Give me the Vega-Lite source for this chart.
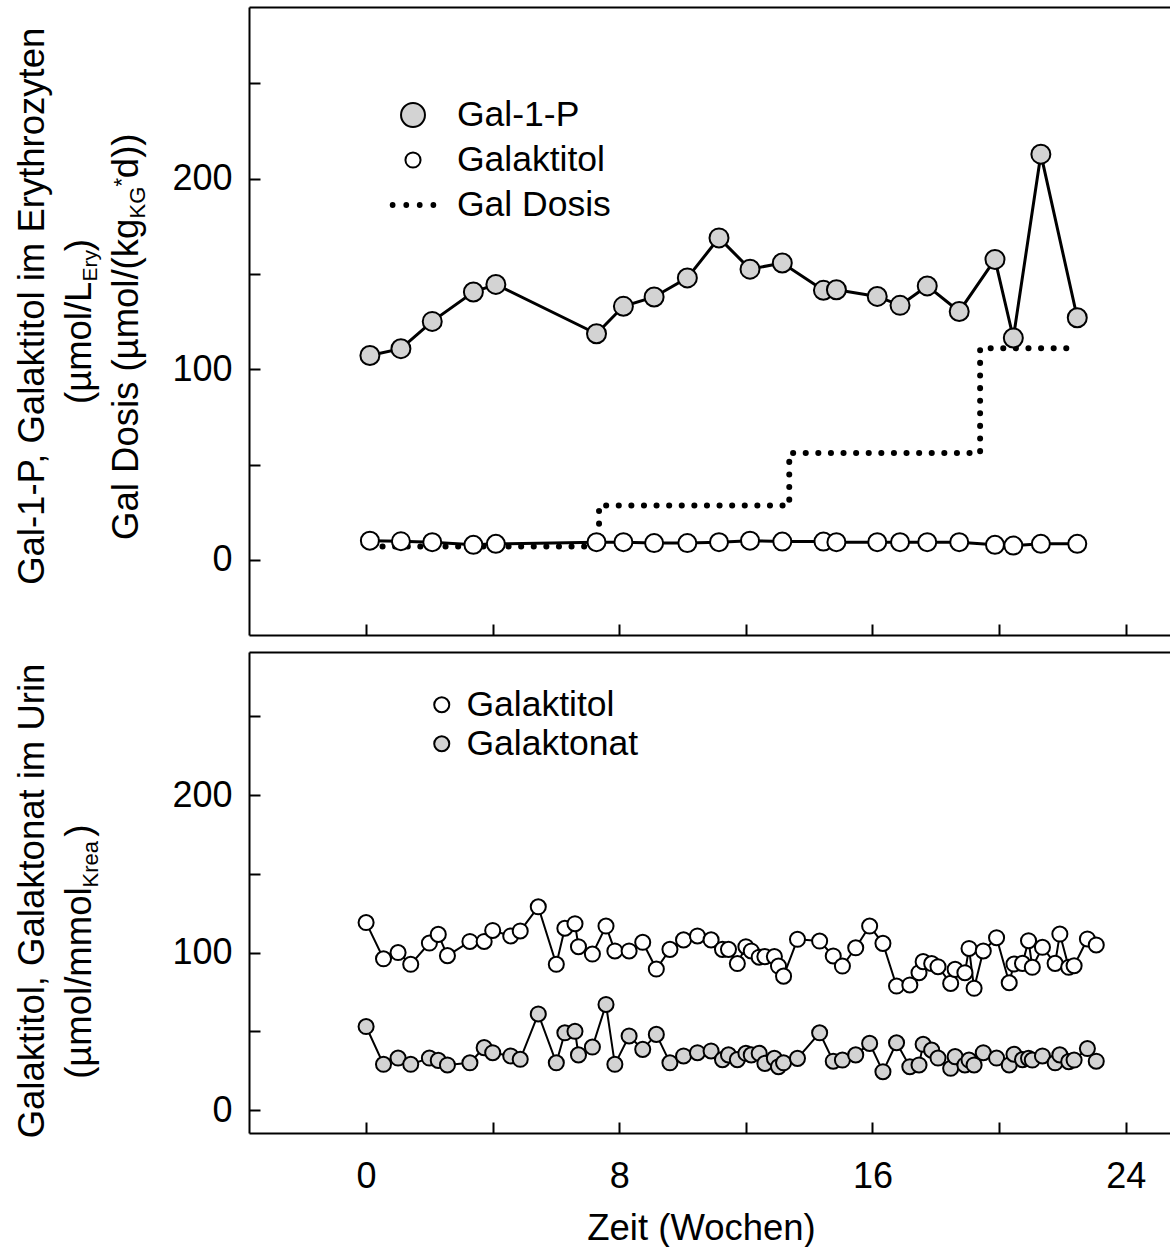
{
  "$schema": "https://vega.github.io/schema/vega-lite/v6.json",
  "padding": {"left": 14, "top": 7, "right": 0, "bottom": 0},
  "spacing": 16,
  "resolve": {"scale": {"fill": "independent", "shape": "independent", "x": "independent", "y": "independent"}, "legend": {"fill": "independent", "shape": "independent"}},
  "config": {
    "font": "Liberation Sans",
    "view": {"stroke": null},
    "axis": {"domainColor": "black", "domainWidth": 2, "tickColor": "black", "tickWidth": 2, "tickSize": -11, "labelColor": "black", "labelFont": "Liberation Sans", "labelFontSize": 36, "labelFlush": false, "labelOverlap": false, "titleFont": "Liberation Sans", "titleFontSize": 36.5, "titleColor": "black", "titleFontWeight": "normal", "grid": false},
    "legend": {"labelFont": "Liberation Sans", "labelFontSize": 35.5, "labelColor": "black", "labelLimit": 400}
  },
  "datasets": {
    "top": [
      {"week": 0.12, "value": 107.2, "series": "Gal-1-P"},
      {"week": 1.10, "value": 110.8, "series": "Gal-1-P"},
      {"week": 2.09, "value": 125.1, "series": "Gal-1-P"},
      {"week": 3.39, "value": 140.5, "series": "Gal-1-P"},
      {"week": 4.10, "value": 144.5, "series": "Gal-1-P"},
      {"week": 7.28, "value": 118.6, "series": "Gal-1-P"},
      {"week": 8.13, "value": 133.0, "series": "Gal-1-P"},
      {"week": 9.10, "value": 137.9, "series": "Gal-1-P"},
      {"week": 10.15, "value": 147.9, "series": "Gal-1-P"},
      {"week": 11.15, "value": 168.9, "series": "Gal-1-P"},
      {"week": 12.13, "value": 152.5, "series": "Gal-1-P"},
      {"week": 13.15, "value": 155.7, "series": "Gal-1-P"},
      {"week": 14.45, "value": 141.4, "series": "Gal-1-P"},
      {"week": 14.86, "value": 141.7, "series": "Gal-1-P"},
      {"week": 16.15, "value": 138.2, "series": "Gal-1-P"},
      {"week": 16.87, "value": 133.5, "series": "Gal-1-P"},
      {"week": 17.73, "value": 143.7, "series": "Gal-1-P"},
      {"week": 18.74, "value": 130.3, "series": "Gal-1-P"},
      {"week": 19.87, "value": 157.6, "series": "Gal-1-P"},
      {"week": 20.45, "value": 116.4, "series": "Gal-1-P"},
      {"week": 21.32, "value": 212.8, "series": "Gal-1-P"},
      {"week": 22.47, "value": 127.0, "series": "Gal-1-P"},
      {"week": 0.12, "value": 10.1, "series": "Galaktitol"},
      {"week": 1.10, "value": 9.8, "series": "Galaktitol"},
      {"week": 2.09, "value": 9.3, "series": "Galaktitol"},
      {"week": 3.39, "value": 7.9, "series": "Galaktitol"},
      {"week": 4.10, "value": 8.4, "series": "Galaktitol"},
      {"week": 7.28, "value": 9.3, "series": "Galaktitol"},
      {"week": 8.13, "value": 9.3, "series": "Galaktitol"},
      {"week": 9.10, "value": 8.8, "series": "Galaktitol"},
      {"week": 10.15, "value": 8.8, "series": "Galaktitol"},
      {"week": 11.15, "value": 9.3, "series": "Galaktitol"},
      {"week": 12.13, "value": 10.1, "series": "Galaktitol"},
      {"week": 13.15, "value": 9.6, "series": "Galaktitol"},
      {"week": 14.45, "value": 9.6, "series": "Galaktitol"},
      {"week": 14.86, "value": 9.3, "series": "Galaktitol"},
      {"week": 16.15, "value": 9.3, "series": "Galaktitol"},
      {"week": 16.87, "value": 9.3, "series": "Galaktitol"},
      {"week": 17.73, "value": 9.3, "series": "Galaktitol"},
      {"week": 18.74, "value": 9.3, "series": "Galaktitol"},
      {"week": 19.87, "value": 7.9, "series": "Galaktitol"},
      {"week": 20.45, "value": 7.5, "series": "Galaktitol"},
      {"week": 21.32, "value": 8.4, "series": "Galaktitol"},
      {"week": 22.47, "value": 8.4, "series": "Galaktitol"},
      {"week": 0.12, "value": 7, "series": "Gal Dosis"},
      {"week": 7.36, "value": 28.5, "series": "Gal Dosis"},
      {"week": 13.37, "value": 56, "series": "Gal Dosis"},
      {"week": 19.4, "value": 111, "series": "Gal Dosis"},
      {"week": 22.3, "value": 111, "series": "Gal Dosis"}
    ],
    "bottom": [
      {"week": 0.0, "value": 119, "series": "Galaktitol"},
      {"week": 0.55, "value": 96, "series": "Galaktitol"},
      {"week": 1.01, "value": 100, "series": "Galaktitol"},
      {"week": 1.41, "value": 92.5, "series": "Galaktitol"},
      {"week": 2.0, "value": 106, "series": "Galaktitol"},
      {"week": 2.28, "value": 111.5, "series": "Galaktitol"},
      {"week": 2.57, "value": 98, "series": "Galaktitol"},
      {"week": 3.28, "value": 107, "series": "Galaktitol"},
      {"week": 3.73, "value": 107, "series": "Galaktitol"},
      {"week": 4.0, "value": 114, "series": "Galaktitol"},
      {"week": 4.57, "value": 110.5, "series": "Galaktitol"},
      {"week": 4.87, "value": 113.7, "series": "Galaktitol"},
      {"week": 5.44, "value": 129, "series": "Galaktitol"},
      {"week": 6.01, "value": 92.5, "series": "Galaktitol"},
      {"week": 6.28, "value": 115.4, "series": "Galaktitol"},
      {"week": 6.6, "value": 118.3, "series": "Galaktitol"},
      {"week": 6.71, "value": 103.7, "series": "Galaktitol"},
      {"week": 7.15, "value": 99, "series": "Galaktitol"},
      {"week": 7.58, "value": 116.8, "series": "Galaktitol"},
      {"week": 7.86, "value": 101, "series": "Galaktitol"},
      {"week": 8.31, "value": 101, "series": "Galaktitol"},
      {"week": 8.74, "value": 106.5, "series": "Galaktitol"},
      {"week": 9.17, "value": 89.5, "series": "Galaktitol"},
      {"week": 9.6, "value": 102, "series": "Galaktitol"},
      {"week": 10.03, "value": 108, "series": "Galaktitol"},
      {"week": 10.47, "value": 110.5, "series": "Galaktitol"},
      {"week": 10.9, "value": 108, "series": "Galaktitol"},
      {"week": 11.26, "value": 102, "series": "Galaktitol"},
      {"week": 11.45, "value": 102, "series": "Galaktitol"},
      {"week": 11.73, "value": 93, "series": "Galaktitol"},
      {"week": 12.0, "value": 103.7, "series": "Galaktitol"},
      {"week": 12.17, "value": 101, "series": "Galaktitol"},
      {"week": 12.42, "value": 97, "series": "Galaktitol"},
      {"week": 12.6, "value": 97.4, "series": "Galaktitol"},
      {"week": 12.9, "value": 97.4, "series": "Galaktitol"},
      {"week": 13.03, "value": 91.4, "series": "Galaktitol"},
      {"week": 13.19, "value": 85, "series": "Galaktitol"},
      {"week": 13.63, "value": 108.4, "series": "Galaktitol"},
      {"week": 14.33, "value": 107.3, "series": "Galaktitol"},
      {"week": 14.76, "value": 97.8, "series": "Galaktitol"},
      {"week": 15.05, "value": 91.4, "series": "Galaktitol"},
      {"week": 15.47, "value": 103, "series": "Galaktitol"},
      {"week": 15.91, "value": 116.8, "series": "Galaktitol"},
      {"week": 16.33, "value": 105.8, "series": "Galaktitol"},
      {"week": 16.76, "value": 78.7, "series": "Galaktitol"},
      {"week": 17.18, "value": 79.4, "series": "Galaktitol"},
      {"week": 17.47, "value": 87.2, "series": "Galaktitol"},
      {"week": 17.6, "value": 94.2, "series": "Galaktitol"},
      {"week": 17.87, "value": 93, "series": "Galaktitol"},
      {"week": 18.07, "value": 91, "series": "Galaktitol"},
      {"week": 18.47, "value": 80.4, "series": "Galaktitol"},
      {"week": 18.61, "value": 89.3, "series": "Galaktitol"},
      {"week": 18.92, "value": 87.2, "series": "Galaktitol"},
      {"week": 19.05, "value": 102.6, "series": "Galaktitol"},
      {"week": 19.21, "value": 77.3, "series": "Galaktitol"},
      {"week": 19.5, "value": 101, "series": "Galaktitol"},
      {"week": 19.92, "value": 109.4, "series": "Galaktitol"},
      {"week": 20.32, "value": 80.8, "series": "Galaktitol"},
      {"week": 20.47, "value": 92.7, "series": "Galaktitol"},
      {"week": 20.74, "value": 93.1, "series": "Galaktitol"},
      {"week": 20.93, "value": 107.5, "series": "Galaktitol"},
      {"week": 21.05, "value": 90.6, "series": "Galaktitol"},
      {"week": 21.37, "value": 103.3, "series": "Galaktitol"},
      {"week": 21.77, "value": 93.1, "series": "Galaktitol"},
      {"week": 21.92, "value": 111.7, "series": "Galaktitol"},
      {"week": 22.2, "value": 90.6, "series": "Galaktitol"},
      {"week": 22.37, "value": 91.6, "series": "Galaktitol"},
      {"week": 22.79, "value": 108.6, "series": "Galaktitol"},
      {"week": 23.07, "value": 104.8, "series": "Galaktitol"},
      {"week": 0.0, "value": 53, "series": "Galaktonat"},
      {"week": 0.55, "value": 29, "series": "Galaktonat"},
      {"week": 1.01, "value": 33, "series": "Galaktonat"},
      {"week": 1.41, "value": 29, "series": "Galaktonat"},
      {"week": 2.0, "value": 33, "series": "Galaktonat"},
      {"week": 2.28, "value": 31.5, "series": "Galaktonat"},
      {"week": 2.57, "value": 28.6, "series": "Galaktonat"},
      {"week": 3.28, "value": 30, "series": "Galaktonat"},
      {"week": 3.73, "value": 39.6, "series": "Galaktonat"},
      {"week": 4.0, "value": 36.4, "series": "Galaktonat"},
      {"week": 4.57, "value": 34.3, "series": "Galaktonat"},
      {"week": 4.87, "value": 32.2, "series": "Galaktonat"},
      {"week": 5.44, "value": 61, "series": "Galaktonat"},
      {"week": 6.01, "value": 30, "series": "Galaktonat"},
      {"week": 6.28, "value": 49, "series": "Galaktonat"},
      {"week": 6.6, "value": 50, "series": "Galaktonat"},
      {"week": 6.71, "value": 35, "series": "Galaktonat"},
      {"week": 7.15, "value": 40, "series": "Galaktonat"},
      {"week": 7.58, "value": 67, "series": "Galaktonat"},
      {"week": 7.86, "value": 29, "series": "Galaktonat"},
      {"week": 8.31, "value": 47, "series": "Galaktonat"},
      {"week": 8.74, "value": 38.5, "series": "Galaktonat"},
      {"week": 9.17, "value": 48, "series": "Galaktonat"},
      {"week": 9.6, "value": 30, "series": "Galaktonat"},
      {"week": 10.03, "value": 34.3, "series": "Galaktonat"},
      {"week": 10.47, "value": 36.4, "series": "Galaktonat"},
      {"week": 10.9, "value": 37.5, "series": "Galaktonat"},
      {"week": 11.26, "value": 32, "series": "Galaktonat"},
      {"week": 11.45, "value": 35, "series": "Galaktonat"},
      {"week": 11.73, "value": 32, "series": "Galaktonat"},
      {"week": 12.0, "value": 36, "series": "Galaktonat"},
      {"week": 12.17, "value": 35, "series": "Galaktonat"},
      {"week": 12.42, "value": 36, "series": "Galaktonat"},
      {"week": 12.6, "value": 29.6, "series": "Galaktonat"},
      {"week": 12.9, "value": 32.8, "series": "Galaktonat"},
      {"week": 13.03, "value": 27.5, "series": "Galaktonat"},
      {"week": 13.19, "value": 30, "series": "Galaktonat"},
      {"week": 13.63, "value": 32.8, "series": "Galaktonat"},
      {"week": 14.33, "value": 49, "series": "Galaktonat"},
      {"week": 14.76, "value": 31, "series": "Galaktonat"},
      {"week": 15.05, "value": 31.7, "series": "Galaktonat"},
      {"week": 15.47, "value": 35, "series": "Galaktonat"},
      {"week": 15.91, "value": 42.3, "series": "Galaktonat"},
      {"week": 16.33, "value": 24.3, "series": "Galaktonat"},
      {"week": 16.76, "value": 42.7, "series": "Galaktonat"},
      {"week": 17.18, "value": 27.5, "series": "Galaktonat"},
      {"week": 17.47, "value": 28.6, "series": "Galaktonat"},
      {"week": 17.6, "value": 41.7, "series": "Galaktonat"},
      {"week": 17.87, "value": 38, "series": "Galaktonat"},
      {"week": 18.07, "value": 33, "series": "Galaktonat"},
      {"week": 18.47, "value": 26.5, "series": "Galaktonat"},
      {"week": 18.61, "value": 33.9, "series": "Galaktonat"},
      {"week": 18.92, "value": 28.6, "series": "Galaktonat"},
      {"week": 19.05, "value": 31.7, "series": "Galaktonat"},
      {"week": 19.21, "value": 28.6, "series": "Galaktonat"},
      {"week": 19.5, "value": 36.4, "series": "Galaktonat"},
      {"week": 19.92, "value": 33, "series": "Galaktonat"},
      {"week": 20.32, "value": 28.6, "series": "Galaktonat"},
      {"week": 20.47, "value": 35.4, "series": "Galaktonat"},
      {"week": 20.74, "value": 32, "series": "Galaktonat"},
      {"week": 20.93, "value": 32.8, "series": "Galaktonat"},
      {"week": 21.05, "value": 31.7, "series": "Galaktonat"},
      {"week": 21.37, "value": 34.3, "series": "Galaktonat"},
      {"week": 21.77, "value": 30, "series": "Galaktonat"},
      {"week": 21.92, "value": 35, "series": "Galaktonat"},
      {"week": 22.2, "value": 30.7, "series": "Galaktonat"},
      {"week": 22.37, "value": 31.7, "series": "Galaktonat"},
      {"week": 22.79, "value": 39, "series": "Galaktonat"},
      {"week": 23.07, "value": 31, "series": "Galaktonat"}
    ]
  },
  "vconcat": [
    {
      "width": 921,
      "height": 628,
      "data": {"name": "top"},
      "resolve": {"axis": {"y": "independent"}},
      "layer": [
        {
          "transform": [{"filter": "datum.series !== 'Gal Dosis'"}],
          "mark": {"type": "line", "color": "black", "strokeWidth": 3},
          "encoding": {
            "x": {"field": "week", "type": "quantitative", "scale": {"domain": [-3.7, 25.4], "nice": false, "zero": false},
                  "axis": {"orient": "bottom", "values": [0, 4, 8, 12, 16, 20, 24], "labels": false, "title": null}},
            "y": {"field": "value", "type": "quantitative", "scale": {"domain": [-39.4, 290], "nice": false, "zero": false},
                  "axis": {"orient": "left", "values": [0, 50, 100, 150, 200, 250], "labelExpr": "datum.value % 100 === 0 ? datum.label : ''", "labelPadding": 28,
                           "title": ["\u200b\u00a0\u00a0\u00a0Gal-1-P, Galaktitol im Erythrozyten", "(µmol/L\u00a0\u00a0\u00a0)", "Gal Dosis (µmol/(kg\u00a0\u00a0\u00a0\u00a0d))\u00a0\u00a0\u00a0\u200b"], "titleLineHeight": 47, "titlePadding": 26}},
            "detail": {"field": "series"}
          }
        },
        {
          "transform": [{"filter": "datum.series === 'Gal Dosis'"}],
          "mark": {"type": "line", "interpolate": "step-after", "color": "black", "strokeWidth": 6, "strokeCap": "round", "strokeDash": [0.1, 12.5]},
          "encoding": {
            "x": {"field": "week", "type": "quantitative", "axis": {"orient": "top", "ticks": false, "labels": false, "title": null}},
            "y": {"field": "value", "type": "quantitative",
                  "axis": {"orient": "left", "domain": false, "ticks": false, "labels": false, "title": "Ery", "titleFontSize": 21, "titleAngle": 270, "titleAlign": "left", "titleBaseline": "middle", "titleX": -159, "titleY": 274}}
          }
        },
        {
          "transform": [{"filter": "datum.series === 'Gal-1-P'"}],
          "mark": {"type": "point", "filled": true, "stroke": "black", "strokeWidth": 2, "opacity": 1, "size": 1111},
          "encoding": {
            "x": {"field": "week", "type": "quantitative", "axis": null},
            "y": {"field": "value", "type": "quantitative",
                  "axis": {"orient": "left", "domain": false, "ticks": false, "labels": false, "title": "KG", "titleFontSize": 22, "titleAngle": 270, "titleAlign": "left", "titleBaseline": "middle", "titleX": -112, "titleY": 211}},
            "fill": {"field": "series", "type": "nominal",
                     "scale": {"domain": ["Gal-1-P", "Galaktitol", "Gal Dosis"], "range": ["#d3d3d3", "white", "black"]},
                     "legend": {"title": null, "orient": "none", "direction": "vertical", "legendX": 142, "legendY": 86, "symbolSize": 1764, "labelOffset": 22, "rowPadding": 4, "symbolStrokeColor": "black", "symbolStrokeWidth": 2, "symbolOpacity": 1,
                                "encode": {"symbols": {"update": {"stroke": {"value": "black"}, "strokeWidth": {"value": 2}}}}}},
            "shape": {"field": "series", "type": "nominal",
                      "scale": {"domain": ["Gal-1-P", "Galaktitol", "Gal Dosis"], "range": [
                        "M-0.57,0A0.57,0.57,0,1,0,0.57,0A0.57,0.57,0,1,0,-0.57,0Z",
                        "M-0.36,0A0.36,0.36,0,1,0,0.36,0A0.36,0.36,0,1,0,-0.36,0Z",
                        "M-1.06,0A0.09,0.09,0,1,0,-0.88,0A0.09,0.09,0,1,0,-1.06,0ZM-0.41,0A0.09,0.09,0,1,0,-0.23,0A0.09,0.09,0,1,0,-0.41,0ZM0.23,0A0.09,0.09,0,1,0,0.41,0A0.09,0.09,0,1,0,0.23,0ZM0.88,0A0.09,0.09,0,1,0,1.06,0A0.09,0.09,0,1,0,0.88,0Z"]},
                      "legend": {"title": null, "orient": "none", "direction": "vertical", "legendX": 142, "legendY": 86, "symbolSize": 1764, "labelOffset": 22, "rowPadding": 4, "symbolStrokeColor": "black", "symbolStrokeWidth": 2, "symbolOpacity": 1,
                                 "encode": {"symbols": {"update": {"stroke": {"value": "black"}, "strokeWidth": {"value": 2}}}}}}
          }
        },
        {
          "transform": [{"filter": "datum.series === 'Galaktitol'"}],
          "mark": {"type": "point", "filled": true, "stroke": "black", "strokeWidth": 2, "opacity": 1, "size": 2500},
          "encoding": {
            "x": {"field": "week", "type": "quantitative", "axis": null},
            "y": {"field": "value", "type": "quantitative",
                  "axis": {"orient": "left", "domain": false, "ticks": false, "labels": false, "title": "*", "titleFontSize": 22, "titleAngle": 270, "titleAlign": "left", "titleBaseline": "middle", "titleX": -128, "titleY": 179}},
            "fill": {"field": "series", "type": "nominal"},
            "shape": {"field": "series", "type": "nominal"}
          }
        }
      ]
    },
    {
      "width": 921,
      "height": 481,
      "data": {"name": "bottom"},
      "resolve": {"axis": {"y": "independent"}},
      "layer": [
        {
          "mark": {"type": "line", "color": "black", "strokeWidth": 2},
          "encoding": {
            "x": {"field": "week", "type": "quantitative", "scale": {"domain": [-3.7, 25.4], "nice": false, "zero": false},
                  "axis": {"orient": "bottom", "values": [0, 4, 8, 12, 16, 20, 24], "labelExpr": "datum.value % 8 === 0 ? datum.label : ''", "labelPadding": 37, "title": "Zeit (Wochen)", "titlePadding": 16, "titleX": 452}},
            "y": {"field": "value", "type": "quantitative", "scale": {"domain": [-14.6, 290.8], "nice": false, "zero": false},
                  "axis": {"orient": "left", "values": [0, 50, 100, 150, 200, 250], "labelExpr": "datum.value % 100 === 0 ? datum.label : ''", "labelPadding": 28,
                           "title": ["Galaktitol, Galaktonat im Urin", "(µmol/mmol\u00a0\u00a0\u00a0\u00a0\u00a0)\u00a0\u00a0\u00a0\u00a0\u00a0\u00a0\u00a0\u00a0\u00a0\u00a0\u200b"], "titleLineHeight": 47, "titlePadding": 73, "titleY": 248.5}},
            "detail": {"field": "series"}
          }
        },
        {
          "mark": {"type": "point", "shape": "circle", "filled": true, "stroke": "black", "strokeWidth": 2, "opacity": 1, "size": 227},
          "encoding": {
            "x": {"field": "week", "type": "quantitative", "axis": {"orient": "top", "ticks": false, "labels": false, "title": null}},
            "y": {"field": "value", "type": "quantitative",
                  "axis": {"orient": "left", "domain": false, "ticks": false, "labels": false, "title": "Krea", "titleFontSize": 22, "titleAngle": 270, "titleAlign": "left", "titleBaseline": "middle", "titleX": -159, "titleY": 235}},
            "fill": {"field": "series", "type": "nominal",
                     "scale": {"domain": ["Galaktitol", "Galaktonat"], "range": ["white", "#d3d3d3"]},
                     "legend": {"title": null, "orient": "none", "direction": "vertical", "legendX": 175, "legendY": 35, "symbolType": "circle", "symbolSize": 227, "labelOffset": 7, "rowPadding": 2, "symbolStrokeColor": "black", "symbolStrokeWidth": 2, "symbolOpacity": 1,
                                "encode": {"symbols": {"update": {"stroke": {"value": "black"}, "strokeWidth": {"value": 2}}}}}}
          }
        }
      ]
    }
  ]
}
